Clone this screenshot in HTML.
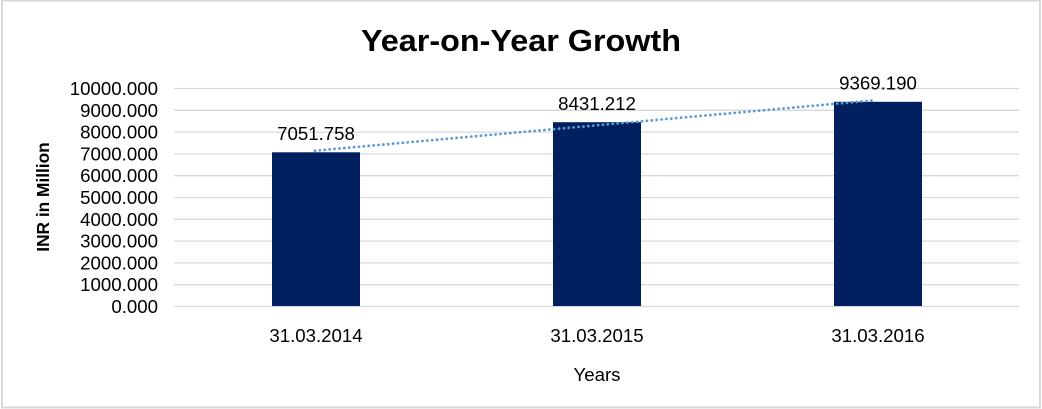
<!DOCTYPE html>
<html>
<head>
<meta charset="utf-8">
<style>
  html,body{margin:0;padding:0;background:#fff;}
  svg{display:block;}
  text{font-family:"Liberation Sans",Arial,sans-serif;fill:#000;}
</style>
</head>
<body>
<svg width="1042" height="409" viewBox="0 0 1042 409" xmlns="http://www.w3.org/2000/svg">
  <rect x="0" y="0" width="1042" height="409" fill="#fff"/>
  <rect x="2" y="0.5" width="1038" height="407" fill="none" stroke="#d9d9d9" stroke-width="2"/>

  <!-- title -->
  <text x="521" y="51" font-size="31" font-weight="bold" text-anchor="middle" textLength="320" lengthAdjust="spacingAndGlyphs">Year-on-Year Growth</text>

  <!-- gridlines -->
  <g stroke="#d9d9d9" stroke-width="1.3">
    <line x1="174" y1="88.5" x2="1019" y2="88.5"/>
    <line x1="174" y1="110.3" x2="1019" y2="110.3"/>
    <line x1="174" y1="132.1" x2="1019" y2="132.1"/>
    <line x1="174" y1="153.9" x2="1019" y2="153.9"/>
    <line x1="174" y1="175.7" x2="1019" y2="175.7"/>
    <line x1="174" y1="197.5" x2="1019" y2="197.5"/>
    <line x1="174" y1="219.3" x2="1019" y2="219.3"/>
    <line x1="174" y1="241.1" x2="1019" y2="241.1"/>
    <line x1="174" y1="262.9" x2="1019" y2="262.9"/>
    <line x1="174" y1="284.7" x2="1019" y2="284.7"/>
    <line x1="174" y1="306.5" x2="1019" y2="306.5"/>
  </g>

  <!-- y tick labels -->
  <g font-size="18.67" text-anchor="end">
    <text x="158" y="95">10000.000</text>
    <text x="158" y="116.8">9000.000</text>
    <text x="158" y="138.6">8000.000</text>
    <text x="158" y="160.4">7000.000</text>
    <text x="158" y="182.2">6000.000</text>
    <text x="158" y="204">5000.000</text>
    <text x="158" y="225.8">4000.000</text>
    <text x="158" y="247.6">3000.000</text>
    <text x="158" y="269.4">2000.000</text>
    <text x="158" y="291.2">1000.000</text>
    <text x="158" y="313">0.000</text>
  </g>

  <!-- y axis title -->
  <text transform="translate(49,197) rotate(-90)" font-size="17.3" font-weight="bold" text-anchor="middle">INR in Million</text>

  <!-- bars -->
  <g fill="#002060">
    <rect x="272" y="152.3" width="88" height="153.7"/>
    <rect x="553" y="122.2" width="88" height="183.8"/>
    <rect x="834" y="101.8" width="88" height="204.2"/>
  </g>

  <!-- trendline -->
  <line x1="315" y1="150.7" x2="873" y2="100.4" stroke="#5b9bd5" stroke-width="2.8" stroke-dasharray="0.1 4.8" stroke-linecap="round"/>

  <!-- data labels -->
  <g font-size="18.67" text-anchor="middle">
    <text x="316" y="140">7051.758</text>
    <text x="597" y="110">8431.212</text>
    <text x="878" y="89.3">9369.190</text>
  </g>

  <!-- x labels -->
  <g font-size="18.67" text-anchor="middle">
    <text x="316" y="342">31.03.2014</text>
    <text x="597" y="342">31.03.2015</text>
    <text x="878" y="342">31.03.2016</text>
  </g>

  <!-- x axis title -->
  <text x="597" y="381" font-size="18.67" text-anchor="middle">Years</text>
</svg>
</body>
</html>
